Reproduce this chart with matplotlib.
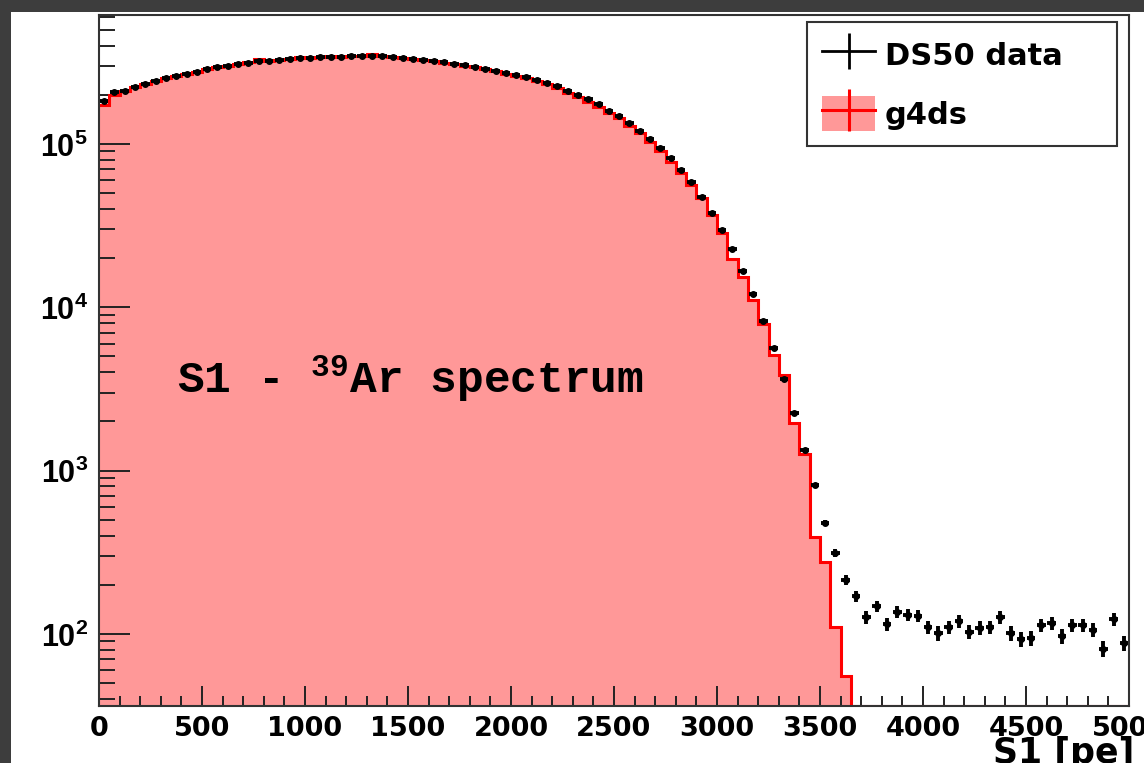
import numpy as np
import matplotlib
matplotlib.use('Agg')
import matplotlib.pyplot as plt
from matplotlib.patches import Rectangle, Patch
from matplotlib.lines import Line2D
from matplotlib.legend_handler import HandlerTuple
from matplotlib.ticker import MultipleLocator, LogLocator, NullFormatter, FuncFormatter

plt.rcParams['font.family'] = ['DejaVu Sans']
plt.rcParams['font.weight'] = 'bold'
plt.rcParams['mathtext.fontset'] = 'custom'
plt.rcParams['mathtext.default'] = 'rm'
plt.rcParams['mathtext.rm'] = 'Liberation Sans:bold'
plt.rcParams['mathtext.it'] = 'Liberation Sans:bold'
plt.rcParams['mathtext.bf'] = 'Liberation Sans:bold'
plt.rcParams['mathtext.tt'] = 'Liberation Mono:bold'

# ---------------- data ----------------
bin_width = 50
bin_edges = np.arange(0, 5000 + bin_width, bin_width)

ds50_counts = [
    182000, 209000, 212000, 224000, 233000, 244000, 255000, 262000, 270000, 277000,
    286000, 294000, 302000, 309000, 315000, 322000, 323000, 328000, 331000, 336000,
    337000, 339000, 341000, 342000, 343500, 344500, 346000, 345000, 341000, 336000,
    333000, 327000, 322000, 315500, 309000, 302500, 296000, 289000, 280000, 272000,
    264600, 256000, 246600, 236300, 225000, 211000, 199600, 187800, 175800, 159300,
    148400, 134500, 120100, 107300, 94500, 82100, 69300, 58500, 47400, 37800,
    29700, 22750, 16680, 12060, 8240, 5630, 3640, 2250, 1337, 816,
    477, 313, 214, 171, 127, 148, 115, 136, 131, 129,
    110, 101, 110, 120, 103, 109, 110, 127, 101, 93,
    94, 113, 117, 97, 113, 113, 106, 81, 123, 88,
]

g4ds_counts = [
    173300, 199500, 210000, 222000, 232000, 243000, 254000, 262000, 270000, 277000,
    286000, 294000, 302000, 309000, 316000, 331000, 323000, 328000, 332000, 342000,
    338000, 340000, 347000, 343000, 344000, 345000, 354000, 345000, 341000, 336000,
    332000, 326000, 321000, 314000, 308000, 301000, 294000, 287000, 278000, 270000,
    262000, 253000, 243000, 232000, 220000, 206000, 194000, 181000, 169200, 154800,
    144300, 128900, 116800, 102900, 90600, 77600, 66400, 56100, 46700, 36700,
    28500, 19750, 15330, 11080, 7900, 5100, 3850, 1957, 1263, 392,
    276, 110, 55, 0, 0, 0, 0, 0, 0, 0,
    0, 0, 0, 0, 0, 0, 0, 0, 0, 0,
    0, 0, 0, 0, 0, 0, 0, 0, 0, 0,
]

series_labels = ['DS50 data', 'g4ds']
annotation = r'S1 - $^{\mathtt{39}}$Ar spectrum'
x_label = 'S1 [pe]'

# ---------------- figure ----------------
W, H = 1144, 763
fig = plt.figure(figsize=(W / 100, H / 100), dpi=100, facecolor='#3d3d3d')
fig.patches.append(Rectangle((11 / W, 0), 1, (H - 12) / H, transform=fig.transFigure,
                             facecolor='white', edgecolor='none', zorder=-10))
ax = fig.add_axes([99 / W, 1 - 706 / H, 1030 / W, 691 / H])
ax.set_zorder(1)
ax.set_yscale('log')
ymin, ymax = 36.2, 6.16e5
ax.set_xlim(0, 5000)
ax.set_ylim(ymin, ymax)

pink = '#ff9898'
g = np.array(g4ds_counts, dtype=float)
g_fill = np.where(g > 0, g, ymin * 0.5)
ax.stairs(g_fill, bin_edges, baseline=ymin * 0.5, fill=True, facecolor=pink,
          edgecolor='none', zorder=1)
ax.stairs(np.maximum(g, ymin), bin_edges, baseline=None, color='#ff0000', lw=2.2, zorder=2)

d = np.array(ds50_counts, dtype=float)
centers = bin_edges[:-1] + bin_width / 2
ax.errorbar(centers, d, xerr=0.42 * bin_width, yerr=np.sqrt(d), fmt='o', color='black',
            ms=4.0, elinewidth=2.8, capsize=0, zorder=3)

# ticks
ax.xaxis.set_major_locator(MultipleLocator(500))
ax.xaxis.set_minor_locator(MultipleLocator(100))
ax.yaxis.set_major_locator(LogLocator(base=10, numticks=12))
ax.yaxis.set_minor_locator(LogLocator(base=10, subs=np.arange(2, 10), numticks=30))
ax.yaxis.set_minor_formatter(NullFormatter())
ax.yaxis.set_major_formatter(FuncFormatter(lambda v, p: r'$10^{%d}$' % int(round(np.log10(v)))))

ax.tick_params(which='both', direction='in', top=False, right=False, color='#222222',
               labelcolor='black', width=1.4)
ax.tick_params(axis='y', which='major', length=22, pad=8, labelsize=22)
ax.tick_params(axis='y', which='minor', length=11.5)
ax.tick_params(axis='x', which='major', length=14.4, pad=7, labelsize=19.5)
ax.tick_params(axis='x', which='minor', length=7.2)
for s in ax.spines.values():
    s.set_linewidth(1.5)
    s.set_color('#333333')
    s.set_zorder(4)

ax.set_xlabel(x_label, fontsize=25, fontweight='bold', loc='right')
ax.xaxis.set_label_coords(1.005, -0.044)

# legend
h_data = (Line2D([], [], color='black', lw=2),
          Line2D([], [], color='black', marker='|', ms=26.6, mew=2, ls='none'))
h_mc = (Patch(facecolor=pink, edgecolor='none'),
        Line2D([], [], color='#ff0000', lw=2.2),
        Line2D([], [], color='#ff0000', marker='|', ms=30, mew=2.2, ls='none'))
leg = ax.legend([h_data, h_mc], series_labels, handler_map={tuple: HandlerTuple()},
                loc='upper left', bbox_to_anchor=(0.6874, 0.5, 0.301, 0.4899), mode='expand',
                borderaxespad=0, fontsize=22, numpoints=1, handlelength=1.73,
                handleheight=1.37, handletextpad=0.32, labelspacing=0.8, borderpad=0.5,
                fancybox=False, framealpha=1, edgecolor='#333333')
leg.get_frame().set_linewidth(1.5)
leg.set_zorder(6)

ax.text(0.0757, 0.453, annotation, transform=ax.transAxes, fontsize=32,
        family='Liberation Mono', fontweight='bold', va='baseline', ha='left', zorder=5)

fig.savefig('out.png', dpi=100, facecolor=fig.get_facecolor())
